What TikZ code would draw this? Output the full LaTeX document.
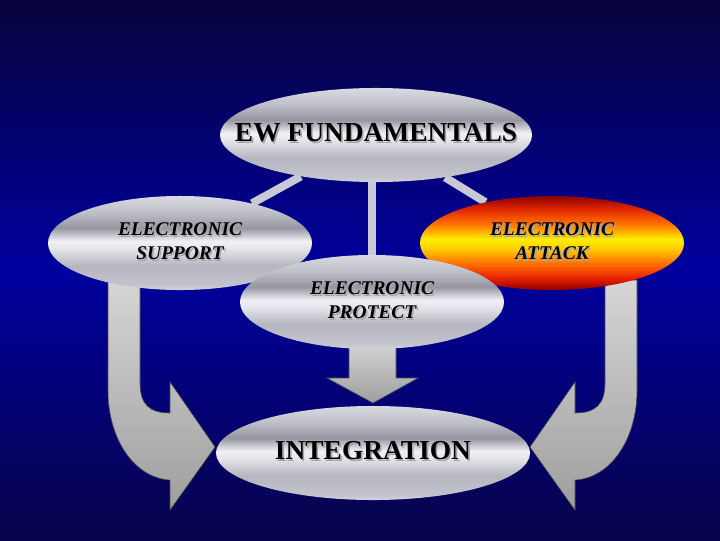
\documentclass[tikz,border=0pt]{standalone}
\usepackage{fontspec}
\setmainfont{Liberation Serif}
\usetikzlibrary{shapes.geometric}

\definecolor{navytop}{RGB}{8,4,62}
\definecolor{navymid}{RGB}{0,0,158}
\definecolor{navybot}{RGB}{8,4,74}
\definecolor{linkgray}{RGB}{200,200,214}
\definecolor{arrowtop}{RGB}{214,214,214}
\definecolor{arrowbot}{RGB}{158,158,158}

% chrome ellipse colours, bottom to top
\definecolor{chA}{RGB}{210,210,218}
\definecolor{chB}{RGB}{195,195,205}
\definecolor{chC}{RGB}{182,182,192}
\definecolor{chD}{RGB}{228,228,234}
\definecolor{chE}{RGB}{240,240,245}
\definecolor{chF}{RGB}{150,150,162}
\definecolor{chG}{RGB}{190,190,200}
\definecolor{chH}{RGB}{218,218,226}
% fire ellipse colours
\definecolor{frA}{RGB}{140,0,0}
\definecolor{frB}{RGB}{225,40,0}
\definecolor{frC}{RGB}{255,115,0}
\definecolor{frD}{RGB}{255,205,0}
\definecolor{frE}{RGB}{255,238,0}
\definecolor{frF}{RGB}{255,110,0}
\definecolor{frG}{RGB}{228,30,0}

\pgfdeclareverticalshading{chrome}{100bp}{color(0bp)=(chA); color(25bp)=(chA);
  color(28bp)=(chB); color(38bp)=(chC); color(47bp)=(chD); color(51bp)=(chE);
  color(58bp)=(chF); color(66bp)=(chG); color(75bp)=(chH); color(100bp)=(chH)}
\pgfdeclareverticalshading{fire}{100bp}{color(0bp)=(frA); color(25bp)=(frA);
  color(31bp)=(frG); color(39bp)=(frF); color(47bp)=(frD); color(52bp)=(frE);
  color(60bp)=(frC); color(68bp)=(frB); color(75bp)=(frA); color(100bp)=(frA)}

\pgfdeclarelayer{back}
\pgfsetlayers{back,main}

\newcommand{\shtxt}[1]{\makebox[0pt][l]{\hspace{1.1pt}\raisebox{-1.1pt}{\color{black!35}#1}}#1}
\newcommand{\ovaltext}[1]{\makebox[0pt]{\begin{tabular}{@{}c@{}}#1\end{tabular}}}

\begin{document}
\begin{tikzpicture}[x=0.025cm, y=-0.025cm,
    oval/.style={ellipse, shading=chrome, inner sep=0pt, minimum height=2.35cm},
    small/.style={minimum width=6.6cm, font=\fontsize{13.8}{17}\selectfont\bfseries\itshape},
    big/.style={minimum width=7.85cm, font=\fontsize{19.5}{23}\selectfont\bfseries},
    link/.style={linkgray, line width=5.7pt},
    bigarrow/.style={top color=arrowtop, bottom color=arrowbot, draw=black!70, line width=0.4pt}]
    \useasboundingbox (0,0) rectangle (720,540);

    % Nodes
    \node (ew) [{oval, big, minimum width=7.8cm}] at (376,135) {\ovaltext{\shtxt{EW FUNDAMENTALS}}};
    \node (es) [{oval, small}] at (180,243) {\ovaltext{\shtxt{ELECTRONIC}\\\shtxt{SUPPORT}}};
    \node (ea) [{oval, small, shading=fire}] at (552,243) {\ovaltext{\shtxt{ELECTRONIC}\\\shtxt{ATTACK}}};
    \node (ep) [{oval, small}] at (372,302) {\ovaltext{\shtxt{ELECTRONIC}\\\shtxt{PROTECT}}};
    \node (int) [{oval, big}] at (373,453) {\ovaltext{\shtxt{INTEGRATION}}};

    \begin{pgfonlayer}{back}
    % Background
    \shade[top color=navytop, bottom color=navybot, middle color=navymid] (0,0) rectangle (720,540);

    % Links from the fundamentals
    \draw[link] (ew) -- (es);
    \draw[link] (ep |- ew) -- (ep);
    \draw[link] (ew) -- (ea);

    % Big arrows into integration
    \draw[bigarrow] (108,280) -- (140,280) -- (140,383) .. controls (140,405) and (150,413) .. (170,413)
        -- (170,382) -- (215,447) -- (170,510) -- (170,480) .. controls (135,478) and (108,440) .. (108,390) -- cycle;
    \draw[bigarrow] (637,280) -- (605,280) -- (605,383) .. controls (605,405) and (595,413) .. (575,413)
        -- (575,382) -- (530,447) -- (575,510) -- (575,480) .. controls (610,478) and (637,440) .. (637,390) -- cycle;
    \draw[bigarrow] (349,340) -- (396,340) -- (396,378) -- (418,378) -- (373,403) -- (327,378) -- (349,378) -- cycle;
    \end{pgfonlayer}
\end{tikzpicture}
\end{document}
